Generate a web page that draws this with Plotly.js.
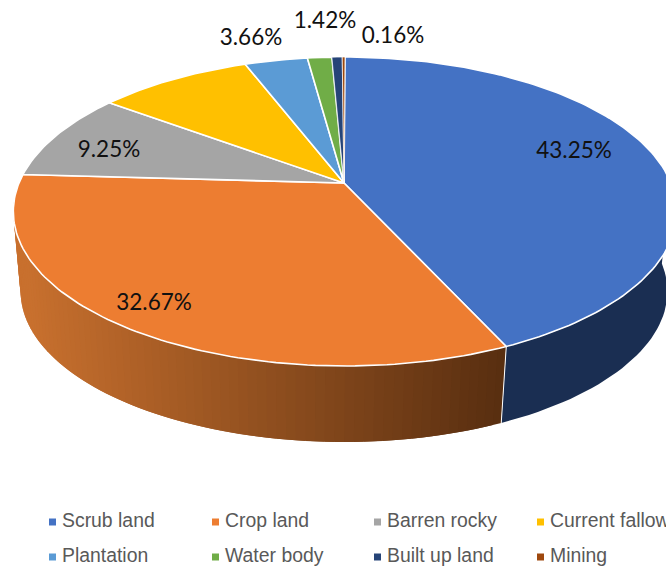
<!DOCTYPE html>
<html>
<head>
<meta charset="utf-8">
<script src="https://cdn.plot.ly/plotly-3.0.1.min.js"></script>
<style>html,body{margin:0;padding:0;background:#fff;overflow:hidden}</style>
</head>
<body>
<div id="chart" style="width:666px;height:571px"></div>
<script>
// Data
const categories = ["Scrub land","Crop land","Barren rocky","Current fallow","Plantation","Water body","Built up land","Mining"];
const shares = [43.25,32.67,9.25,8.99,3.66,1.42,0.60,0.16];
const labelled = [true,true,true,false,true,true,false,true];

// Styles
const colors = ["#4472C4","#ED7D31","#A5A5A5","#FFC000","#5B9BD5","#70AD47","#264478","#9E480E"];
const wallBlue = [26,46,82];
const wallLeft = [200,112,46];
const wallRight = [88,46,16];
const labelPx = [[574,152],[154,304],[109,151],null,[251,39],[325,22],null,[393,37]];
const legendPx = {xs:[52.5,215.5,377.5,540.5], ys:[522,557], textOffset:9.5};

// Projection of the pie disc (homography of a circle)
const cam = {cx:345, apexX:344, floorX:344, cy:183, a:326, b:149.2, p:0.1845, depth:80.6, shrink:0.975};
function rim(theta){
  const u = Math.sin(theta), v = Math.cos(theta), w = 1 + cam.p*v;
  return [cam.cx + cam.a*u/w, cam.cy - cam.b*v/w];
}
function floorPt(theta){
  const t = rim(theta);
  return [cam.floorX + cam.shrink*(t[0]-cam.cx), cam.cy + cam.depth + cam.shrink*(t[1]-cam.cy)];
}
const total = shares.reduce((s,v)=>s+v,0);
const bounds = [0];
shares.forEach(v=>bounds.push(bounds[bounds.length-1]+v/total*2*Math.PI));

const traces = [];
function lerp(c0,c1,f){
  return 'rgb('+c0.map((c,i)=>Math.round(c+(c1[i]-c)*f)).join(',')+')';
}
// Side wall: each strip is overpainted by the next one so no seams show
const visibleEnd = 1.5*Math.PI;
const xLeft = floorPt(visibleEnd)[0], xRight = rim(bounds[1])[0];
[0,1].forEach(idx=>{
  const t0 = Math.max(bounds[idx], Math.PI/2);
  const t1 = Math.min(bounds[idx+1], visibleEnd);
  const n = idx===0 ? 1 : 80;
  for(let k=0;k<n;k++){
    const sub = idx===0 ? 40 : 3;
    const xs=[], ys=[], xb=[], yb=[];
    const last = Math.min(n,k+2);
    for(let j=0;j<=sub;j++){
      const a = t0+(t1-t0)*(k+(last-k)*j/sub)/n;
      const p = rim(a), q = floorPt(a);
      xs.push(p[0]); ys.push(p[1]); xb.unshift(q[0]); yb.unshift(q[1]);
    }
    const mid = rim(t0+(t1-t0)*(k+0.5)/n)[0];
    const f = Math.min(1,Math.max(0,(mid-xLeft)/(xRight-xLeft)));
    const col = idx===0 ? lerp(wallBlue,wallBlue,0) : lerp(wallLeft,wallRight,f);
    traces.push({type:'scatter',mode:'lines',fill:'toself',fillcolor:col,
      x:xs.concat(xb,[xs[0]]),y:ys.concat(yb,[ys[0]]),
      line:{color:col,width:0},showlegend:false,hoverinfo:'skip'});
  }
});
// White seam between the two walls
{
  const p = rim(bounds[1]), q = floorPt(bounds[1]);
  traces.push({type:'scatter',mode:'lines',x:[p[0],q[0]],y:[p[1],q[1]],
    line:{color:'#fff',width:1},showlegend:false,hoverinfo:'skip'});
}
// Top wedges
categories.forEach((name,i)=>{
  const xs=[cam.apexX], ys=[cam.cy];
  const n = Math.max(2,Math.ceil((bounds[i+1]-bounds[i])/0.02));
  for(let k=0;k<=n;k++){
    const pt = rim(bounds[i]+(bounds[i+1]-bounds[i])*k/n);
    xs.push(pt[0]); ys.push(pt[1]);
  }
  xs.push(cam.apexX); ys.push(cam.cy);
  traces.push({type:'scatter',mode:'lines',fill:'toself',fillcolor:colors[i],name:name,
    x:xs,y:ys,line:{color:'#fff',width:i>=6?0.7:1.6},showlegend:false,
    hoverinfo:'text',text:name+': '+shares[i].toFixed(2)+'%'});
});
// Data labels
const lab = labelPx.map((p,i)=>labelled[i]?{p:p,t:shares[i].toFixed(2)+'%'}:null).filter(Boolean);
traces.push({type:'scatter',mode:'text',x:lab.map(l=>l.p[0]),y:lab.map(l=>l.p[1]),text:lab.map(l=>l.t),
  textposition:'middle center',textfont:{family:'Lato, sans-serif',size:22.5,color:'#111'},
  showlegend:false,hoverinfo:'skip',cliponaxis:false});
// Legend
const lx = categories.map((_,i)=>legendPx.xs[i%4]), ly = categories.map((_,i)=>legendPx.ys[Math.floor(i/4)]);
traces.push({type:'scatter',mode:'markers',x:lx,y:ly,
  marker:{symbol:'square',size:7,color:colors,line:{width:0}},showlegend:false,hoverinfo:'skip'});
traces.push({type:'scatter',mode:'text',x:lx.map(v=>v+legendPx.textOffset),y:ly,text:categories,
  textposition:'middle right',textfont:{family:'Arial, "Liberation Sans", sans-serif',size:19.4,color:'#595959'},
  showlegend:false,hoverinfo:'skip'});

const layout = {
  width:666,height:571,margin:{l:0,r:0,t:0,b:0},showlegend:false,
  paper_bgcolor:'#fff',plot_bgcolor:'#fff',
  xaxis:{range:[0,666],visible:false,fixedrange:true},
  yaxis:{range:[571,0],visible:false,fixedrange:true}
};
Plotly.newPlot('chart',traces,layout,{displayModeBar:false});
</script>
</body>
</html>
